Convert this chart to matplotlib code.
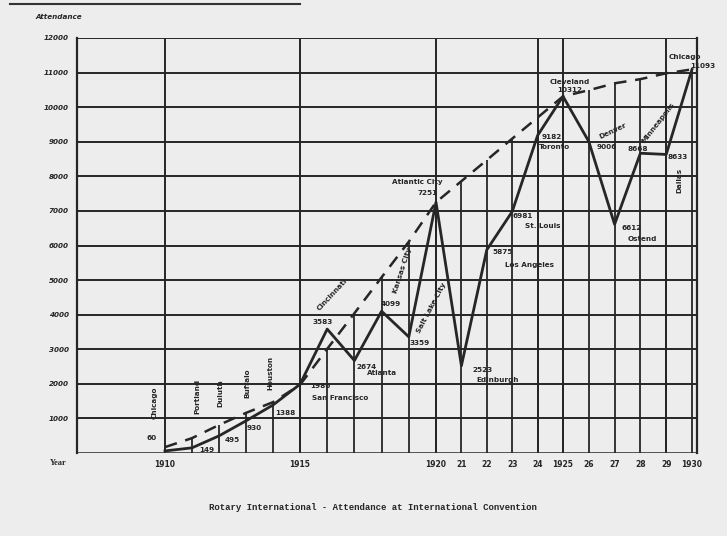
import numpy as np
import matplotlib.pyplot as plt
from matplotlib.lines import Line2D

# convention attendance
years = [1910, 1911, 1912, 1913, 1914, 1915, 1916, 1917, 1918, 1919, 1920,
         1921, 1922, 1923, 1924, 1925, 1926, 1927, 1928, 1929, 1930]
attendance = [60, 149, 495, 930, 1388, 1986, 3583, 2674, 4099, 3359, 7251,
              2523, 5875, 6981, 9182, 10312, 9006, 6612, 8668, 8633, 11093]
# the dashed (trend) line
trend = [170, 430, 810, 1160, 1470, 1970, 3010, 4040, 5080, 6110, 7251,
         7860, 8470, 9090, 9700, 10312, 10490, 10690, 10810, 10980, 11093]
cities = ["Chicago", "Portland", "Duluth", "Buffalo", "Houston", "San Francisco",
          "Cincinnati", "Atlanta", "Kansas City", "Salt Lake City", "Atlantic City",
          "Edinburgh", "Los Angeles", "St. Louis", "Toronto", "Cleveland",
          "Denver", "Ostend", "Minneapolis", "Dallas", "Chicago"]

major_years = [1910, 1915, 1920, 1924, 1925, 1929]
xtick_years = [1910, 1915, 1920, 1921, 1922, 1923, 1924, 1925, 1926, 1927, 1928, 1929, 1930]
xtick_labels = ["1910", "1915", "1920", "21", "22", "23", "24", "1925", "26", "27", "28", "29", "1930"]
ytick_vals = [1000, 2000, 3000, 4000, 5000, 6000, 7000, 8000, 9000, 10000, 11000, 12000]
ytick_labels = ["1000", "2000", "3000", "4000", "5000", "6000", "7000", "8000",
                "9000", "10000", "11000", "12000"]

# the hand drawn year spacing is not quite even
scale_years = [1906, 1910, 1915, 1920, 1925, 1930, 1931]
scale_px = [57, 165, 300, 436, 563, 692, 718]


def fwd(x):
    return np.interp(x, scale_years, scale_px)


def inv(p):
    return np.interp(p, scale_px, scale_years)


# label offsets in pixels: (number dx, dy, city dx, dy, city rotation)
offs = [
    (-13, 13, -10, 48, 90),
    (15, -2, 5, 51, 90),
    (13, -4, 1, 43, 90),
    (8, -7, 1, 38, 90),
    (12, -8, -3, 32, 90),
    (20, -2, 40, -14, 0),
    (-5, 7, 5, 35, 47),
    (12, -6, 28, -12, 0),
    (9, 7, 21, 41, 72),
    (11, -6, 23, 29, 62),
    (-8, 9, -19, 20, 0),
    (21, -4, 36, -14, 0),
    (16, -2, 43, -15, 0),
    (10, -4, 31, -14, 0),
    (14, -2, 17, -12, 0),
    (7, 6, 7, 14, 0),
    (18, -5, 24, 11, 25),
    (17, -4, 28, -15, 0),
    (-3, 4, 18, 31, 52),
    (11, -3, 13, -26, 90),
    (11, 3, -7, 12, 0),
]

ink = "#262626"
paper = "#ededed"

fig = plt.figure(figsize=(7.27, 5.36), dpi=100, facecolor=paper)
ax = fig.add_axes([77 / 727, 83 / 536, 620 / 727, 415 / 536], facecolor=paper)

ax.set_xscale("function", functions=(fwd, inv))
ax.set_xlim(inv(77), inv(697))
ax.set_ylim(0, 12000)

# grid
for v in ytick_vals:
    ax.axhline(v, color=ink, lw=1.4, zorder=1)
ax.vlines(years, 0, trend, color=ink, lw=1.3, zorder=1)
ax.vlines(major_years, 0, 12000, color=ink, lw=1.4, zorder=1)

ax.plot(years, trend, color=ink, lw=1.8, ls=(0, (5, 3.5)), zorder=2)
ax.plot(years, attendance, color=ink, lw=2.0, zorder=3)

fs = 5.2
for i, y in enumerate(years):
    ndx, ndy, cdx, cdy, rot = offs[i]
    ax.annotate(f"{attendance[i]}", (y, attendance[i]), xytext=(ndx, ndy),
                textcoords="offset pixels", ha="center", va="center",
                fontsize=fs, color=ink, fontweight="bold", annotation_clip=False)
    ax.annotate(cities[i], (y, attendance[i]), xytext=(cdx, cdy),
                textcoords="offset pixels", ha="center", va="center",
                rotation=rot, fontsize=fs, color=ink, fontweight="bold",
                annotation_clip=False)

for s in ["top", "bottom"]:
    ax.spines[s].set_visible(False)
for s in ["left", "right"]:
    ax.spines[s].set_color(ink)
    ax.spines[s].set_linewidth(1.6)
ax.axhline(0, color=ink, lw=1.8, zorder=1)

ax.set_xticks(xtick_years)
ax.set_xticklabels(xtick_labels, fontsize=5.5, fontweight="bold", color=ink)
ax.minorticks_off()
ax.set_yticks(ytick_vals)
ax.set_yticklabels(ytick_labels, fontsize=5.2, fontweight="bold", color=ink,
                   style="italic")
ax.tick_params(length=0, pad=6)
ax.tick_params(axis="x", pad=5)

fig.text(35 / 727, 1 - 17 / 536, "Attendance", fontsize=5.2, fontweight="bold",
         color=ink, style="italic", va="center")
fig.text(50 / 727, 1 - 463 / 536, "Year", fontsize=6, fontweight="bold",
         color=ink, va="center", family="Liberation Serif")
fig.text(373 / 727, 1 - 507 / 536,
         "Rotary International - Attendance at International Convention",
         fontsize=6.5, family="Liberation Mono", fontweight="bold", color=ink,
         ha="center", va="center")

# edge of the scanned page
fig.add_artist(Line2D([10 / 727, 300 / 727], [1 - 4 / 536, 1 - 4 / 536],
                      color="#333333", lw=1.5, transform=fig.transFigure))

fig.savefig("out.png", dpi=100, facecolor=paper)
